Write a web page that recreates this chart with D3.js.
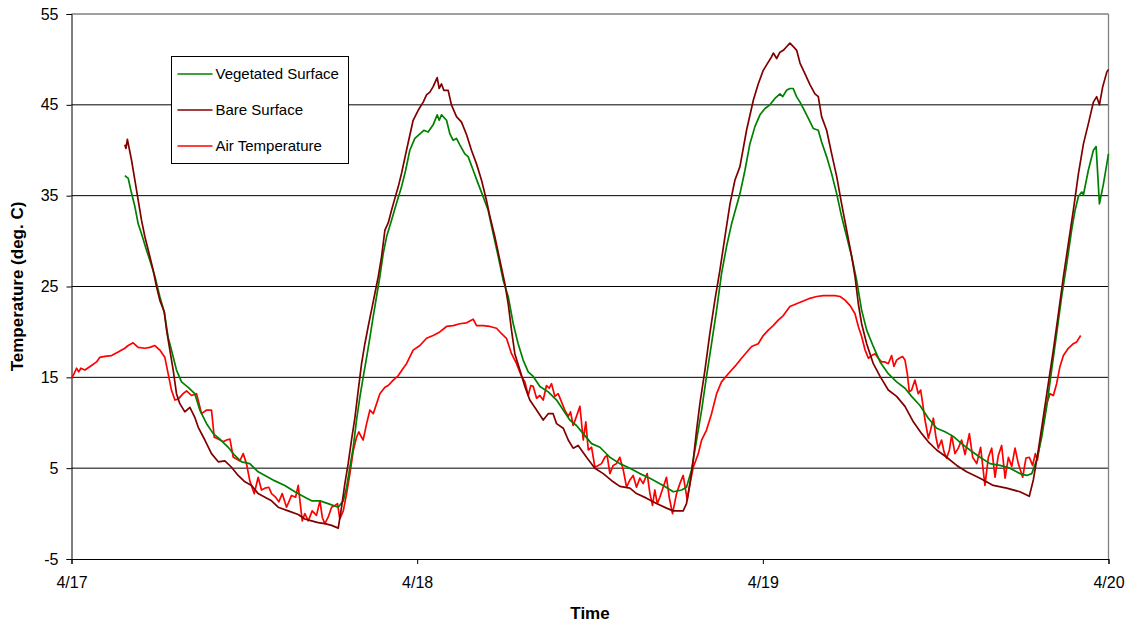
<!DOCTYPE html>
<html>
<head>
<meta charset="utf-8">
<script src="https://cdn.jsdelivr.net/npm/d3@7"></script>
<style>
  html, body { margin: 0; padding: 0; background: #fff; }
  svg { display: block; font-family: "Liberation Sans", Arial, sans-serif; }
</style>
</head>
<body>
<svg id="chart" width="1131" height="624"></svg>
<script>
// Series names and colours
const seriesNames = ["Vegetated Surface", "Bare Surface", "Air Temperature"];
const seriesColors = ["#008000", "#800000", "#ff0000"];

// Readings: [hours since 4/17 00:00, temperature in deg. C]
const vegetated = [
  [3.7,37.2],[3.94,36.9],[4.12,35.6],[4.4,33.8],[4.63,31.9],[4.86,30.8],[5.21,29.0],[5.44,27.9],[5.79,26.1],[6.13,23.9],
  [6.44,22.2],[6.71,19.4],[6.94,18.0],[7.29,15.8],[7.64,14.5],[8.1,13.9],[8.56,13.2],[8.91,11.4],[9.38,9.9],[9.84,8.8],
  [10.3,8.2],[10.88,7.3],[11.34,6.4],[11.81,5.7],[12.38,5.5],[12.96,4.6],[13.43,4.2],[14.12,3.6],[14.81,3.1],[15.51,2.4],
  [16.2,1.8],[16.67,1.4],[17.25,1.4],[17.82,1.1],[18.52,0.7],[18.87,1.4],[19.1,2.9],[19.33,5.1],[19.56,7.3],[19.79,10.3],
  [20.02,12.8],[20.25,15.0],[20.49,17.2],[20.72,19.4],[20.95,21.7],[21.18,23.9],[21.41,26.1],[21.64,28.6],[21.88,30.5],
  [22.22,32.3],[22.57,34.2],[22.92,36.0],
  [23.2,37.8],[23.49,40.0],[23.84,41.3],[24.19,41.8],[24.46,42.2],[24.76,42.0],[25.11,42.8],[25.39,43.9],[25.53,43.3],
  [25.69,43.9],[26.04,43.3],[26.27,41.8],[26.5,41.1],[26.73,41.3],[26.96,40.6],[27.31,39.6],[27.54,39.3],[27.89,37.8],
  [28.24,36.3],[28.58,34.9],[28.93,33.4],[29.28,30.8],[29.63,28.3],[29.97,25.7],[30.32,23.9],[30.67,20.9],[31.01,18.7],
  [31.36,16.9],[31.71,15.6],[32.06,15.1],[32.52,14.0],[33.1,13.4],[33.68,12.5],[34.14,11.4],[34.6,10.3],[35.06,9.7],
  [35.53,8.8],[36.11,7.7],[36.69,7.3],[37.38,6.2],[38.07,5.5],[38.77,5.0],[39.46,4.4],[40.16,3.9],[41.08,3.1],[41.78,2.4],
  [42.36,2.6],[42.7,2.9],[43.05,4.8],[43.4,8.1],[43.75,11.4],[44.09,15.1],[44.44,18.7],[44.79,22.4],[45.13,26.4],
  [45.48,29.4],[45.83,31.9],
  [46.41,35.2],[46.76,37.8],[47.1,40.7],[47.45,42.6],[47.8,43.9],[48.15,44.6],[48.49,45.0],[48.84,45.7],[49.19,46.2],
  [49.38,45.9],[49.65,46.6],[49.88,46.8],[50.11,46.8],[50.34,45.9],[50.58,45.3],[50.81,44.6],[51.16,43.5],[51.5,42.4],
  [51.85,42.2],[52.08,40.9],[52.43,39.3],[52.78,37.4],[53.13,35.2],[53.47,32.7],[53.82,30.5],[54.17,28.3],[54.51,25.7],
  [54.86,22.4],[55.21,20.2],[55.67,18.4],[56.14,16.7],[56.71,15.4],[57.29,14.5],[57.87,13.8],[58.33,12.9],[58.91,11.9],
  [59.49,10.5],[60.07,9.4],[60.65,9.0],[61.22,8.5],[61.8,7.7],[62.38,7.0],[63.08,6.2],[63.77,5.5],[64.47,5.3],[65.16,5.0],
  [65.85,4.4],[66.32,4.2],[66.67,4.4],[67.01,5.9],[67.36,8.4],[67.71,11.8],[68.05,15.8],[68.4,19.8],[68.75,23.9],
  [69.1,27.5],[69.44,31.2],[69.68,33.4],[69.91,34.9],[70.14,35.4],[70.26,35.1],[70.6,37.8],[70.95,40.0],[71.14,40.4],
  [71.37,34.1],[71.65,36.3],[72.0,39.6]
];

const bare = [
  [3.7,40.6],[3.78,40.2],[3.88,41.2],[4.17,38.9],[4.4,36.7],[4.63,34.5],[4.86,32.3],[5.09,30.5],[5.44,28.3],[5.67,26.8],
  [5.9,25.0],[6.13,23.5],[6.44,22.2],[6.6,20.2],[6.83,18.0],[7.06,15.8],[7.29,13.2],[7.52,12.1],[7.87,11.2],[8.22,11.7],
  [8.56,10.6],[8.8,9.5],[9.26,8.1],[9.72,6.6],[10.19,5.7],[10.65,5.8],[11.11,5.1],[11.57,4.2],[12.04,3.5],[12.5,3.1],
  [12.96,2.2],[13.43,1.8],[13.89,1.4],[14.35,0.7],[15.05,0.3],[15.74,-0.1],[16.2,-0.6],[16.67,-0.8],[17.13,-1.0],
  [17.59,-1.1],[18.06,-1.3],[18.52,-1.6],[18.75,0.7],[18.98,3.3],[19.21,5.5],[19.44,8.1],[19.68,10.6],[19.91,13.6],
  [20.14,16.5],[20.37,18.7],[20.6,20.6],[20.83,22.4],[21.06,24.2],[21.3,26.1],[21.53,28.3],[21.76,31.2],[21.99,32.0],
  [22.22,33.4],[22.45,34.7],[22.69,36.0],[22.92,37.5],
  [23.26,40.0],[23.72,43.3],[24.07,44.4],[24.42,45.3],[24.65,46.1],[24.88,46.4],[25.11,47.0],[25.39,48.0],[25.53,46.8],
  [25.69,47.3],[25.85,46.6],[26.15,46.6],[26.38,45.0],[26.73,43.7],[27.08,43.1],[27.43,41.7],[27.77,40.0],[28.12,38.5],
  [28.47,36.7],[28.81,34.5],[29.05,32.7],[29.39,30.5],[29.74,27.9],[30.09,25.3],[30.32,23.1],[30.55,20.2],[30.78,17.6],
  [31.13,15.8],[31.48,14.0],[31.82,12.5],[32.29,11.4],[32.75,10.3],[33.1,11.0],[33.44,11.0],[33.68,9.9],[34.14,9.4],
  [34.49,8.1],[34.83,7.2],[35.18,7.5],[35.76,6.2],[36.34,5.0],[36.92,4.4],[37.61,3.5],[38.07,3.0],[38.77,2.8],[39.23,2.2],
  [39.92,1.7],[40.62,1.1],[41.31,0.6],[41.78,0.3],[42.47,0.3],[42.7,1.1],[42.94,3.3],[43.17,5.9],[43.4,9.2],[43.63,12.1],
  [43.98,15.8],[44.32,19.8],[44.67,23.5],[45.02,26.8],[45.37,30.5],[45.72,34.1],[46.06,36.7],
  [46.41,38.2],[46.87,42.2],[47.34,45.5],[47.68,47.3],[48.03,48.8],[48.26,49.4],[48.61,50.3],[48.73,50.7],[48.96,50.1],
  [49.19,50.8],[49.42,51.0],[49.65,51.4],[49.88,51.8],[50.12,51.4],[50.35,51.0],[50.58,49.6],[50.93,48.4],[51.28,47.2],
  [51.62,46.2],[51.85,45.9],[52.08,43.7],[52.43,42.2],[52.78,39.6],[53.13,37.1],[53.47,34.1],[53.82,31.2],[54.17,28.3],
  [54.4,26.1],[54.63,23.1],[54.86,20.9],[55.21,18.7],[55.67,16.5],[56.14,15.1],[56.71,13.6],[57.29,12.9],[57.87,11.8],
  [58.45,10.1],[59.03,8.8],[59.49,7.9],[60.07,7.0],[60.76,6.2],[61.46,5.3],[62.15,4.6],[63.08,3.9],[64.0,3.1],[64.93,2.8],
  [65.85,2.4],[66.5,1.9],[66.78,3.7],[67.13,7.0],[67.47,10.6],[67.82,14.3],[68.17,18.0],[68.52,22.0],[68.87,26.1],
  [69.21,29.7],[69.56,33.4],[69.91,37.4],[70.26,40.7],[70.6,42.9],[70.95,45.3],[71.18,45.9],[71.37,45.0],[71.6,47.0],
  [71.88,48.6],[72.0,48.9]
];

const air = [
  [0,14.9],[0.18,15.4],[0.35,16.0],[0.5,15.6],[0.65,16.0],[0.93,15.8],[1.39,16.3],[1.74,16.7],[1.97,17.2],[2.31,17.3],
  [2.78,17.4],[3.24,17.8],[3.7,18.2],[3.94,18.5],[4.28,18.8],[4.63,18.3],[5.09,18.2],[5.44,18.3],[5.79,18.5],[6.13,18.0],
  [6.48,17.2],[6.71,15.4],[6.94,13.6],[7.18,12.5],[7.41,12.6],[7.75,13.2],[7.99,13.5],[8.33,13.0],[8.68,13.2],[9.03,11.0],
  [9.38,11.4],[9.72,11.4],[9.91,8.4],[10.19,8.2],[10.53,7.9],[10.76,8.1],[11.0,8.2],[11.23,6.2],[11.46,6.0],[11.69,5.8],
  [11.92,6.6],[12.15,5.5],[12.38,3.6],[12.69,2.2],[12.96,4.0],[13.19,2.6],[13.43,2.8],[13.7,2.9],[13.89,2.2],[14.17,1.8],
  [14.4,1.3],[14.63,2.2],[14.93,0.7],[15.28,2.0],[15.56,1.8],[15.74,3.1],[16.02,-0.8],[16.2,0.0],[16.44,-0.8],[16.71,0.3],
  [17.01,-0.2],[17.25,1.4],[17.41,-0.4],[17.59,-1.1],[17.82,-0.4],[18.06,0.7],[18.29,0.9],[18.47,1.1],[18.63,-0.6],
  [18.87,0.3],[19.1,2.2],[19.33,4.4],[19.56,6.9],[19.79,8.4],[19.95,9.0],[20.14,8.4],[20.25,8.1],[20.49,9.9],[20.72,11.4],
  [20.95,11.0],[21.18,12.1],[21.41,13.2],[21.76,13.9],[21.99,14.1],[22.34,14.7],[22.69,15.2],[23.03,16.0],
  [23.26,16.5],[23.72,18.0],[24.19,18.5],[24.65,19.3],[25.11,19.6],[25.57,20.0],[26.04,20.6],[26.5,20.7],[26.96,20.9],
  [27.43,21.0],[27.89,21.4],[28.12,20.7],[28.58,20.7],[29.05,20.6],[29.51,20.4],[29.86,19.8],[30.2,19.3],[30.55,17.6],
  [30.9,16.5],[31.25,15.1],[31.48,14.5],[31.71,13.0],[31.89,14.1],[32.06,14.0],[32.29,12.7],[32.52,13.0],[32.75,12.5],
  [32.98,14.1],[33.17,13.8],[33.33,14.3],[33.56,12.9],[33.79,13.2],[34.02,12.3],[34.25,11.4],[34.49,10.7],[34.65,11.2],
  [34.83,9.7],[35.06,10.7],[35.3,11.8],[35.53,8.1],[35.71,10.1],[35.88,7.0],[36.11,7.3],[36.34,5.1],[36.57,5.3],[36.8,5.5],
  [37.03,6.2],[37.19,6.4],[37.38,4.4],[37.61,5.3],[37.84,5.5],[38.07,6.2],[38.31,4.8],[38.54,2.9],[38.77,3.7],[39.0,4.2],
  [39.23,2.9],[39.46,3.9],[39.69,3.3],[39.97,4.4],[40.16,2.2],[40.34,0.9],[40.5,2.6],[40.67,1.1],[40.85,1.8],[41.08,2.9],
  [41.31,4.0],[41.5,1.8],[41.73,0.0],[42.01,2.2],[42.24,3.3],[42.47,4.2],[42.75,1.5],[42.94,3.3],[43.17,5.1],[43.52,6.6],
  [43.75,8.1],[44.09,9.2],[44.44,11.0],[44.79,13.2],[45.13,14.5],[45.6,15.4],[46.06,16.2],[46.52,17.1],
  [47.22,18.4],[47.68,18.7],[48.03,19.6],[48.38,20.2],[48.72,20.7],[49.07,21.3],[49.42,21.8],[49.88,22.8],[50.34,23.1],
  [50.81,23.4],[51.27,23.7],[51.74,23.9],[52.2,24.0],[52.66,24.0],[53.01,24.0],[53.36,23.9],[53.71,23.5],[54.06,22.9],
  [54.4,22.0],[54.63,20.6],[54.86,19.5],[55.1,18.0],[55.33,17.1],[55.56,17.4],[55.79,17.6],[56.02,17.1],[56.25,16.7],
  [56.48,16.7],[56.71,16.5],[56.94,17.4],[57.1,16.2],[57.29,16.9],[57.47,17.1],[57.7,17.3],[57.87,16.9],[58.03,15.4],
  [58.17,13.4],[58.33,13.6],[58.56,14.7],[58.79,13.2],[58.96,13.6],[59.1,12.1],[59.26,10.3],[59.49,8.3],[59.65,9.2],
  [59.84,10.5],[60.02,8.4],[60.18,7.2],[60.41,8.1],[60.58,6.8],[60.76,6.1],[60.95,7.0],[61.11,8.6],[61.34,6.6],[61.57,7.2],
  [61.8,8.1],[62.04,6.5],[62.34,8.8],[62.57,6.2],[62.85,5.5],[63.12,7.3],[63.42,3.1],[63.66,6.2],[63.89,7.2],[64.12,4.0],
  [64.35,6.4],[64.58,7.5],[64.82,3.9],[65.05,6.2],[65.28,5.2],[65.51,7.2],[65.74,5.5],[66.04,4.0],[66.27,6.1],[66.5,6.2],
  [66.73,5.3],[66.92,6.6],[67.06,5.9],[67.24,7.7],[67.47,9.9],[67.71,12.1],[67.94,13.2],[68.17,13.0],[68.4,14.3],
  [68.63,16.2],[68.87,17.4],[69.21,18.2],[69.56,18.7],[69.79,18.9],[70.07,19.6]
];

// Axis ticks
const yTicks = [-5, 5, 15, 25, 35, 45, 55];
const dayTicks = ["4/17", "4/18", "4/19", "4/20"];
const yearOf = 2004;

const startDate = new Date(yearOf, 3, 17);
const toDate = h => new Date(startDate.getTime() + h * 3600 * 1000);
const tickDates = dayTicks.map(s => { const [m, d] = s.split("/").map(Number); return new Date(yearOf, m - 1, d); });

const svg = d3.select("#chart");
const plot = { left: 71.5, right: 1108.5, top: 14, bottom: 559 };

const x = d3.scaleTime().domain([tickDates[0], tickDates[tickDates.length - 1]]).range([plot.left, plot.right]);
const y = d3.scaleLinear().domain([-5, 55]).range([plot.bottom, plot.top]);

// Horizontal gridlines
svg.append("g").selectAll("line").data(yTicks.filter(v => v > -5 && v < 55)).join("line")
  .attr("x1", plot.left).attr("x2", plot.right)
  .attr("y1", d => y(d)).attr("y2", d => y(d))
  .attr("stroke", "#000").attr("stroke-width", 1);

// Plot-area border (top and right)
svg.append("line").attr("x1", plot.left).attr("x2", plot.right).attr("y1", y(55)).attr("y2", y(55))
  .attr("stroke", "#808080").attr("stroke-width", 1.3);
svg.append("line").attr("x1", plot.right).attr("x2", plot.right).attr("y1", plot.top).attr("y2", plot.bottom)
  .attr("stroke", "#808080").attr("stroke-width", 1.3);

// Y axis
const yAxis = d3.axisLeft(y).tickValues(yTicks).tickSize(5).tickPadding(8).tickFormat(d => String(d));
const gy = svg.append("g").attr("transform", `translate(${plot.left},0)`).call(yAxis);
gy.select(".domain").attr("stroke", "#000");
gy.selectAll(".tick line").attr("stroke", "#000");
gy.selectAll(".tick text").attr("font-size", 16).attr("fill", "#000")
  .attr("font-family", "'Liberation Sans', Arial, sans-serif");

// X axis
const xAxis = d3.axisBottom(x).tickValues(tickDates).tickSize(5).tickPadding(13).tickFormat((d, i) => dayTicks[i]);
const gx = svg.append("g").attr("transform", `translate(0,${plot.bottom})`).call(xAxis);
gx.select(".domain").attr("stroke", "#000");
gx.selectAll(".tick line").attr("stroke", "#000");
gx.selectAll(".tick text").attr("font-size", 16).attr("fill", "#000")
  .attr("font-family", "'Liberation Sans', Arial, sans-serif");

// Axis titles
svg.append("text").attr("x", (plot.left + plot.right) / 2).attr("y", 619)
  .attr("text-anchor", "middle").attr("font-size", 17).attr("font-weight", "bold").text("Time");
svg.append("text").attr("transform", `translate(23,${(plot.top + plot.bottom) / 2}) rotate(-90)`)
  .attr("text-anchor", "middle").attr("font-size", 17).attr("font-weight", "bold").text("Temperature (deg. C)");

// Series lines
const line = d3.line().x(d => x(toDate(d[0]))).y(d => y(d[1]));
const seriesData = [vegetated, bare, air];
const drawOrder = [2, 0, 1];
drawOrder.forEach(i => {
  svg.append("path").datum(seriesData[i])
    .attr("fill", "none").attr("stroke", seriesColors[i]).attr("stroke-width", 1.7)
    .attr("stroke-linejoin", "round").attr("d", line);
});

// Legend
const legend = svg.append("g").attr("transform", "translate(171.5,56.5)");
legend.append("rect").attr("width", 177).attr("height", 107)
  .attr("fill", "#fff").attr("stroke", "#000").attr("stroke-width", 1);
seriesNames.forEach((name, i) => {
  const cy = 17.5 + i * 36;
  legend.append("line").attr("x1", 6).attr("x2", 41).attr("y1", cy).attr("y2", cy)
    .attr("stroke", seriesColors[i]).attr("stroke-width", 1.7);
  legend.append("text").attr("x", 44).attr("y", cy).attr("dy", "0.35em")
    .attr("font-size", 15).attr("fill", "#000").text(name);
});
</script>
</body>
</html>
